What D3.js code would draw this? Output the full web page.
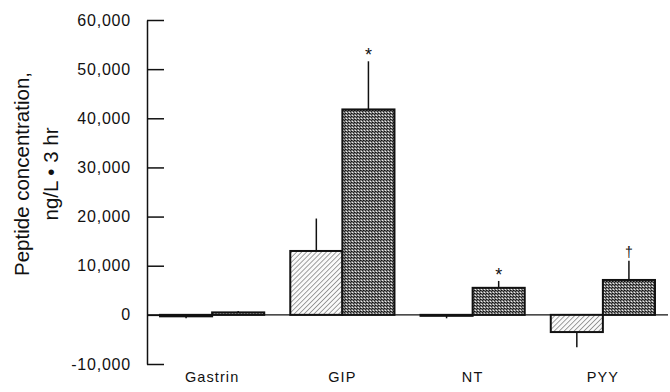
<!DOCTYPE html>
<html>
<head>
<meta charset="utf-8">
<script src="https://cdn.jsdelivr.net/npm/d3@7"></script>
<style>
  body { margin: 0; background: #fff; }
  text { font-family: "Liberation Sans", Arial, sans-serif; fill: #111; }
</style>
</head>
<body>
<div id="chart"></div>
<script>
// data
var categories = ["Gastrin", "GIP", "NT", "PYY"];
var hatchedValues = [-300, 13000, -200, -3500];
var hatchedErrors = [-700, 19600, -700, -6600];
var dottedValues = [500, 41800, 5500, 7100];
var dottedErrors = [800, 51600, 6900, 11000];
var hatchedMarks = ["", "", "", ""];
var dottedMarks = ["", "*", "*", "†"];
var tickValues = [-10000, 0, 10000, 20000, 30000, 40000, 50000, 60000];
var tickLabels = ["-10,000", "0", "10,000", "20,000", "30,000", "40,000", "50,000", "60,000"];

var svgWidth = 670;
var svgHeight = 392;

var margin = { top: 20, right: 2, bottom: 28, left: 147 };
var width = svgWidth - margin.left - margin.right;
var height = svgHeight - margin.top - margin.bottom;

var svg = d3.select("#chart")
  .append("svg")
  .attr("width", svgWidth)
  .attr("height", svgHeight);

var defs = svg.append("defs");

// diagonal hatch
var hatch = defs.append("pattern")
  .attr("id", "hatch")
  .attr("patternUnits", "userSpaceOnUse")
  .attr("width", 3.5)
  .attr("height", 3.5)
  .attr("patternTransform", "rotate(45)");
hatch.append("rect").attr("width", 3.5).attr("height", 3.5).attr("fill", "#fafafa");
hatch.append("line")
  .attr("x1", 0).attr("y1", 0).attr("x2", 0).attr("y2", 3.5)
  .attr("stroke", "#444").attr("stroke-width", 1);

// stipple
var dots = defs.append("pattern")
  .attr("id", "dots")
  .attr("patternUnits", "userSpaceOnUse")
  .attr("width", 3)
  .attr("height", 3);
dots.append("rect").attr("width", 3).attr("height", 3).attr("fill", "#7e7e7e");
dots.append("rect").attr("x", 0).attr("y", 0).attr("width", 1).attr("height", 1).attr("fill", "#111");
dots.append("rect").attr("x", 2).attr("y", 1).attr("width", 1).attr("height", 1).attr("fill", "#222");
dots.append("rect").attr("x", 1).attr("y", 2).attr("width", 1).attr("height", 1).attr("fill", "#eee");
dots.append("rect").attr("x", 1).attr("y", 0).attr("width", 1).attr("height", 1).attr("fill", "#444");

var chartGroup = svg.append("g")
  .attr("transform", `translate(${margin.left}, ${margin.top})`);

var xScale = d3.scaleBand()
  .domain(categories)
  .range([0, width])
  .paddingInner(0.2)
  .paddingOuter(0.1);

var xSub = d3.scaleBand()
  .domain(["hatched", "dotted"])
  .range([0, xScale.bandwidth()]);

var yScale = d3.scaleLinear()
  .domain([-10000, 60000])
  .range([height, 0]);

var leftAxis = d3.axisLeft(yScale)
  .tickValues(tickValues)
  .tickFormat(function(d, i) { return tickLabels[i]; })
  .tickSizeInner(-17)
  .tickSizeOuter(0)
  .tickPadding(16);

var yAxis = chartGroup.append("g").call(leftAxis);
yAxis.selectAll("path, line").attr("stroke", "#111").attr("stroke-width", 1.5);
yAxis.selectAll("text")
  .style("font-size", "16px")
  .style("letter-spacing", "0.8px")
  .attr("fill", "#111");

// zero baseline
chartGroup.append("line")
  .attr("x1", 0)
  .attr("x2", width)
  .attr("y1", yScale(0))
  .attr("y2", yScale(0))
  .attr("stroke", "#111")
  .attr("stroke-width", 1.4);

var rows = categories.map(function(c, i) {
  return [
    { cat: c, key: "hatched", value: hatchedValues[i], err: hatchedErrors[i], mark: hatchedMarks[i] },
    { cat: c, key: "dotted", value: dottedValues[i], err: dottedErrors[i], mark: dottedMarks[i] }
  ];
});
var bars = [].concat.apply([], rows);

var barX = function(d) { return xScale(d.cat) + xSub(d.key); };

// error bars
chartGroup.selectAll(".err")
  .data(bars)
  .enter()
  .append("line")
  .attr("class", "err")
  .attr("x1", d => barX(d) + xSub.bandwidth() / 2)
  .attr("x2", d => barX(d) + xSub.bandwidth() / 2)
  .attr("y1", d => yScale(d.value))
  .attr("y2", d => yScale(d.err))
  .attr("stroke", "#111")
  .attr("stroke-width", 1.5);

chartGroup.selectAll(".bar")
  .data(bars)
  .enter()
  .append("rect")
  .attr("class", "bar")
  .attr("x", d => barX(d))
  .attr("width", xSub.bandwidth())
  .attr("y", d => yScale(Math.max(0, d.value)))
  .attr("height", d => Math.abs(yScale(d.value) - yScale(0)))
  .attr("fill", d => d.key === "hatched" ? "url(#hatch)" : "url(#dots)")
  .attr("stroke", "#111")
  .attr("stroke-width", 2);

// significance marks
chartGroup.selectAll(".mark")
  .data(bars.filter(d => d.mark))
  .enter()
  .append("text")
  .attr("class", "mark")
  .attr("x", d => barX(d) + xSub.bandwidth() / 2)
  .attr("y", d => yScale(d.err) - (d.mark === "*" ? 0 : 4))
  .attr("text-anchor", "middle")
  .style("font-size", d => d.mark === "*" ? "18px" : "14px")
  .text(d => d.mark);

// category labels
chartGroup.selectAll(".cat")
  .data(categories)
  .enter()
  .append("text")
  .attr("class", "cat")
  .attr("x", d => xScale(d) + xScale.bandwidth() / 2)
  .attr("y", height + 18)
  .attr("text-anchor", "middle")
  .style("font-size", "14.5px")
  .style("letter-spacing", "1.1px")
  .text(d => d);

// y axis title
var title = chartGroup.append("text")
  .attr("transform", `translate(-118, ${height / 2 - 18}) rotate(-90)`)
  .attr("text-anchor", "middle")
  .style("font-size", "20.5px");
title.append("tspan").attr("x", 0).attr("dy", 0).text("Peptide concentration,");
title.append("tspan").attr("x", 0).attr("dy", "1.4em").text("ng/L • 3 hr");
</script>
</body>
</html>
